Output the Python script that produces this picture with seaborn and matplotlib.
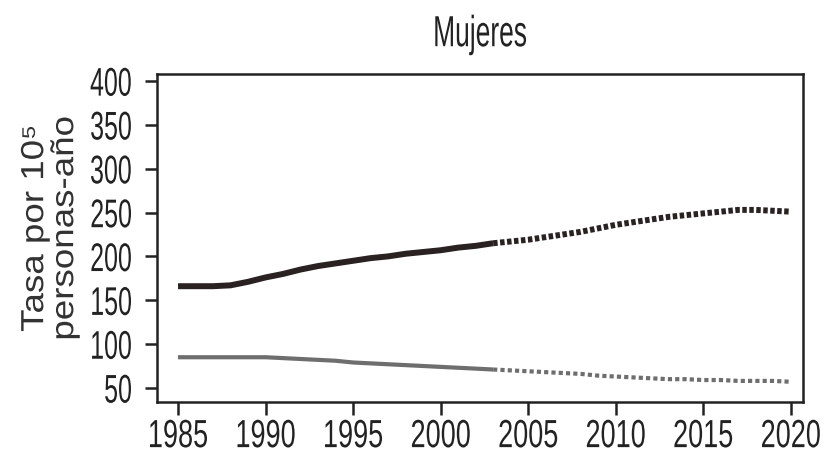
import pandas as pd
import seaborn as sns
import matplotlib.pyplot as plt
from matplotlib.patheffects import AbstractPathEffect
from matplotlib.transforms import Affine2D

# observed (solid) and projected (dotted) rates
years_obs = list(range(1985, 2004))
top_obs = [166, 166, 166, 167, 171, 176, 180, 185, 189, 192,
           195, 198, 200, 203, 205, 207, 210, 212, 215]
low_obs = [85, 85, 85, 85, 85, 85, 84, 83, 82, 81,
           79, 78, 77, 76, 75, 74, 73, 72, 71]

years_proj = list(range(2003, 2021))
top_proj = [215, 217, 219, 222, 225, 228, 232, 236, 239, 242,
            245, 247, 249, 251, 253, 253, 252, 251]
low_proj = [71, 70, 69, 68, 67, 66, 64, 63, 62, 61,
            60, 60, 59, 59, 58, 58, 58, 57]

obs = pd.DataFrame({'year': years_obs, 'top': top_obs, 'low': low_obs})
proj = pd.DataFrame({'year': years_proj, 'top': top_proj, 'low': low_proj})


class Scale(AbstractPathEffect):
    # rescale glyphs in their own frame (fake condensed / wide faces)
    def __init__(self, sx=1.0, sy=1.0, anchor='center'):
        super().__init__()
        self.sx, self.sy = sx, sy
        self.anchor = anchor

    def draw_path(self, renderer, gc, tpath, affine, rgbFace=None):
        ext = tpath.get_extents()
        cx = (ext.x0 + ext.x1) / 2
        y0 = {'base': 0, 'center': (ext.y0 + ext.y1) / 2, 'top': ext.y1}[self.anchor]
        t = (Affine2D().translate(-cx, -y0).scale(self.sx, self.sy)
             .translate(cx, y0) + affine)
        renderer.draw_path(gc, tpath, t, rgbFace)


sns.set_style("ticks")
plt.rcParams['font.family'] = ['Liberation Sans', 'DejaVu Sans']

fig = plt.figure(figsize=(8.33, 4.60), dpi=100)
ax = fig.add_axes([0.1885, 0.124, 0.7755, 0.713])

ink = '#2a2222'
sns.lineplot(x='year', y='top', data=obs, ax=ax, color=ink, linewidth=4.3,
             solid_capstyle='butt')
sns.lineplot(x='year', y='low', data=obs, ax=ax, color='#6e6e6e', linewidth=3,
             solid_capstyle='butt')
sns.lineplot(x='year', y='top', data=proj, ax=ax, color=ink, linewidth=4.3,
             linestyle=(0, (0.75, 0.42)), dash_capstyle='butt')
sns.lineplot(x='year', y='low', data=proj, ax=ax, color='#6e6e6e', linewidth=3,
             linestyle=(0, (1.0, 0.75)), dash_capstyle='butt')

ax.set_xlim(1983.8, 2020.7)
ax.set_ylim(34, 408)
ax.set_xticks(range(1985, 2021, 5))
ax.set_yticks(range(50, 401, 50))
ax.tick_params(axis='both', length=9, width=1.8, colors='#222222')
ax.tick_params(axis='x', labelsize=19.5, pad=3)
ax.tick_params(axis='y', labelsize=18, pad=9)

for lab in ax.get_xticklabels():
    lab.set_path_effects([Scale(sy=1.45, anchor='top')])
for lab in ax.get_yticklabels():
    lab.set_path_effects([Scale(sy=1.6, anchor='center')])

for s in ax.spines.values():
    s.set_linewidth(1.8)
    s.set_color('#222222')

title = ax.set_title('Mujeres', fontsize=19, pad=20, color='#222222')
title.set_path_effects([Scale(sy=1.65, anchor='base')])
ax.set_xlabel('')
ylab = ax.set_ylabel('Tasa por 10⁵\npersonas-año', fontsize=23, color='#333333',
                     linespacing=1.0)
ylab.set_path_effects([Scale(sx=1.15, anchor='base')])
ax.yaxis.set_label_coords(-0.119, 0.53)

plt.savefig('out.png', dpi=100)
